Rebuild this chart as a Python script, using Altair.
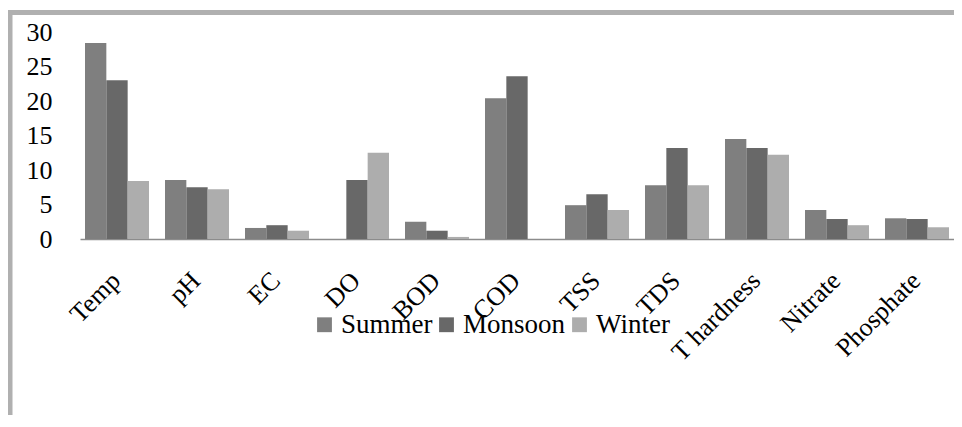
import altair as alt
import pandas as pd

params = ["Temp", "pH", "EC", "DO", "BOD", "COD", "TSS", "TDS", "T hardness", "Nitrate", "Phosphate"]
seasons = ["Summer", "Monsoon", "Winter"]
summer = [28.4, 8.55, 1.6, 0.0, 2.5, 20.4, 4.9, 7.8, 14.5, 4.2, 3.0]
monsoon = [23.0, 7.5, 2.0, 8.55, 1.2, 23.6, 6.5, 13.2, 13.2, 2.9, 2.9]
winter = [8.4, 7.2, 1.2, 12.5, 0.3, 0.0, 4.2, 7.8, 12.2, 2.0, 1.7]
colors = ["#7f7f7f", "#686868", "#adadad"]
y_ticks = [0, 5, 10, 15, 20, 25, 30]

rows = []
for s, vals in zip(seasons, [summer, monsoon, winter]):
    for p, v in zip(params, vals):
        rows.append({"param": p, "season": s, "value": v})
df = pd.DataFrame(rows)

FONT = "Liberation Serif"

bars = alt.Chart(df).mark_bar().encode(
    x=alt.X("param:N", sort=params,
            scale=alt.Scale(paddingInner=0.2, paddingOuter=0.0625),
            axis=alt.Axis(title=None, ticks=False, labelAngle=-45, labelFont=FONT,
                          labelFontSize=26, labelColor="black", labelPadding=28,
                          labelOffset=-10, labelOverlap=False, domainColor="#8c8c8c",
                          domainWidth=1.5, grid=False)),
    xOffset=alt.XOffset("season:N", sort=seasons, scale=alt.Scale(paddingInner=0)),
    y=alt.Y("value:Q", scale=alt.Scale(domain=[0, 30], nice=False),
            axis=alt.Axis(title=None, values=y_ticks, ticks=False, domain=False, grid=False,
                          labelFont=FONT, labelFontSize=26, labelColor="black",
                          labelPadding=28)),
    color=alt.Color("season:N", sort=seasons,
                    scale=alt.Scale(domain=seasons, range=colors),
                    legend=alt.Legend(title=None, orient="none", direction="horizontal",
                                      legendX=231, legendY=279, symbolType="square",
                                      symbolSize=220, symbolStrokeWidth=0,
                                      labelFont=FONT, labelFontSize=27, labelColor="black",
                                      labelOffset=3, columnPadding=0, padding=0)),
)

frame_df = pd.DataFrame({"a": [0]})
top_rule = alt.Chart(frame_df).mark_rule(color="#b0b0b0", strokeWidth=5).encode(
    x=alt.value(-72), x2=alt.value(874), y=alt.value(-19.5)
)
left_rule = alt.Chart(frame_df).mark_rule(color="#b0b0b0", strokeWidth=5).encode(
    x=alt.value(-70), y=alt.value(-22), y2=alt.value(383)
)

chart = alt.layer(bars, top_rule, left_rule).properties(
    width=874, height=207, background="white",
    autosize=alt.AutoSizeParams(type="none"),
    padding={"left": 72, "top": 24, "right": 0, "bottom": 176}
).configure_view(strokeWidth=0)

chart.save("out.html", embed_options={"renderer": "svg", "actions": False})
